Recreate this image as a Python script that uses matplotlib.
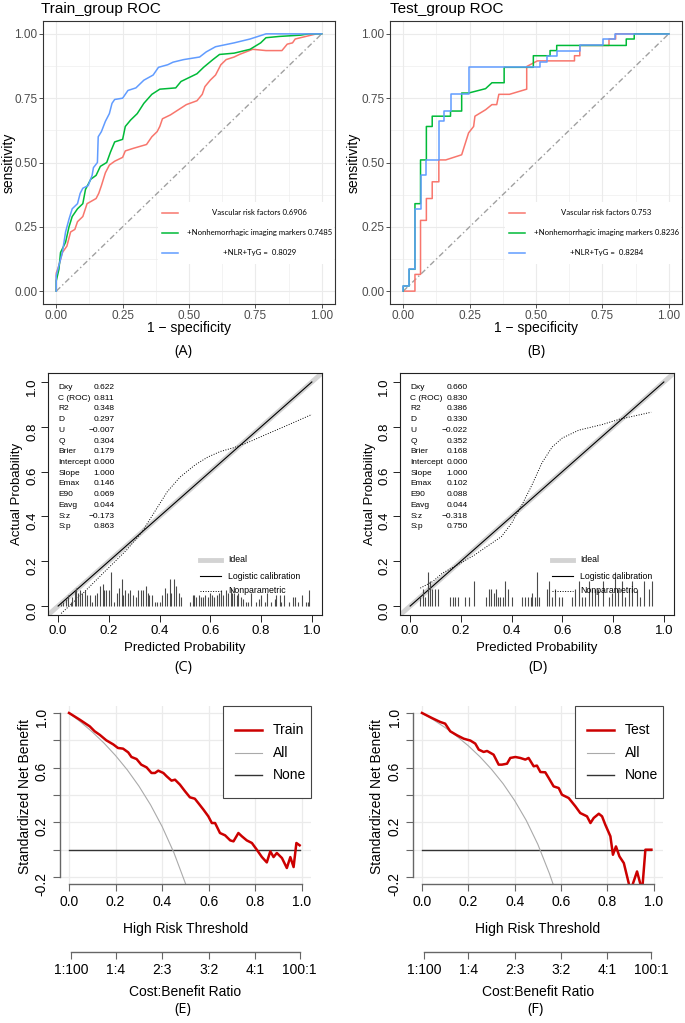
import matplotlib
matplotlib.use("Agg")
import matplotlib.pyplot as plt
from matplotlib.patches import Rectangle

W, H = 685, 1023
plt.rcParams["font.family"] = ["Liberation Sans", "DejaVu Sans"]

# ---------------- ROC curves (1 - specificity, sensitivity) ----------------
train_vrf_fpr = [0, 0, 0.01, 0.023, 0.04, 0.054, 0.07, 0.08, 0.10, 0.116, 0.15, 0.16, 0.17, 0.185, 0.20,
                 0.22, 0.25, 0.26, 0.29, 0.34, 0.36, 0.38, 0.39, 0.40, 0.43, 0.46, 0.49, 0.53, 0.55, 0.56,
                 0.58, 0.60, 0.61, 0.62, 0.64, 0.67, 0.69, 0.74, 0.79, 0.85, 0.87, 0.89, 0.90, 0.94, 0.98, 1.0]
train_vrf_tpr = [0, 0.07, 0.10, 0.15, 0.175, 0.23, 0.24, 0.27, 0.29, 0.34, 0.36, 0.38, 0.41, 0.46, 0.49,
                 0.505, 0.52, 0.545, 0.555, 0.57, 0.60, 0.62, 0.64, 0.67, 0.685, 0.705, 0.725, 0.74, 0.765, 0.795,
                 0.82, 0.84, 0.86, 0.88, 0.90, 0.91, 0.92, 0.94, 0.935, 0.935, 0.96, 0.965, 0.98, 0.99, 1.0, 1.0]
train_img_fpr = [0, 0, 0.01, 0.016, 0.035, 0.048, 0.06, 0.08, 0.10, 0.11, 0.13, 0.15, 0.166, 0.19, 0.204,
                 0.22, 0.25, 0.26, 0.28, 0.305, 0.33, 0.36, 0.39, 0.45, 0.47, 0.50, 0.53, 0.555, 0.59, 0.615,
                 0.67, 0.73, 0.77, 0.79, 0.84, 0.92, 0.95, 1.0]
train_img_tpr = [0, 0.04, 0.085, 0.15, 0.19, 0.25, 0.29, 0.32, 0.34, 0.395, 0.435, 0.45, 0.485, 0.50, 0.54,
                 0.58, 0.59, 0.64, 0.665, 0.69, 0.73, 0.765, 0.785, 0.79, 0.815, 0.83, 0.845, 0.87, 0.90, 0.92,
                 0.925, 0.94, 0.965, 0.985, 0.99, 0.995, 1.0, 1.0]
train_full_fpr = [0, 0, 0.01, 0.023, 0.035, 0.048, 0.06, 0.08, 0.09, 0.10, 0.12, 0.135, 0.14, 0.155, 0.158,
                  0.17, 0.185, 0.20, 0.21, 0.22, 0.25, 0.27, 0.30, 0.33, 0.365, 0.385, 0.42, 0.44, 0.48, 0.54,
                  0.565, 0.60, 0.67, 0.73, 0.79, 1.0]
train_full_tpr = [0, 0.06, 0.10, 0.15, 0.23, 0.28, 0.32, 0.34, 0.38, 0.40, 0.41, 0.45, 0.48, 0.50, 0.60,
                  0.62, 0.66, 0.69, 0.73, 0.745, 0.75, 0.78, 0.79, 0.82, 0.84, 0.87, 0.88, 0.89, 0.90, 0.91,
                  0.93, 0.95, 0.965, 0.98, 1.0, 1.0]

test_vrf_fpr = [0, 0.044, 0.044, 0.065, 0.065, 0.087, 0.087, 0.109, 0.109, 0.134, 0.134, 0.16, 0.22, 0.246, 0.265,
                0.27, 0.31, 0.334, 0.352, 0.36, 0.40, 0.465, 0.465, 0.505, 0.645, 0.645, 0.665, 0.665, 0.775, 0.775,
                0.80, 0.80, 1.0]
test_vrf_tpr = [0, 0, 0.065, 0.065, 0.275, 0.275, 0.36, 0.36, 0.425, 0.425, 0.51, 0.51, 0.53, 0.615, 0.64,
                0.68, 0.705, 0.725, 0.725, 0.765, 0.765, 0.785, 0.873, 0.895, 0.895, 0.915, 0.915, 0.955, 0.955, 0.98,
                0.98, 1.0, 1.0]
test_img_fpr = [0, 0, 0.022, 0.022, 0.044, 0.044, 0.065, 0.065, 0.087, 0.087, 0.109, 0.109, 0.178, 0.178, 0.22,
                0.22, 0.246, 0.31, 0.334, 0.38, 0.38, 0.49, 0.49, 0.553, 0.553, 0.578, 0.578, 0.84, 0.84, 0.87,
                0.87, 1.0]
test_img_tpr = [0, 0.02, 0.02, 0.085, 0.085, 0.34, 0.34, 0.51, 0.51, 0.64, 0.64, 0.68, 0.68, 0.70, 0.70,
                0.77, 0.77, 0.787, 0.81, 0.81, 0.87, 0.87, 0.915, 0.915, 0.935, 0.935, 0.955, 0.955, 0.98, 0.98,
                1.0, 1.0]
test_full_fpr = [0, 0, 0.022, 0.022, 0.044, 0.044, 0.065, 0.065, 0.087, 0.087, 0.134, 0.134, 0.152, 0.152, 0.178,
                 0.178, 0.246, 0.246, 0.515, 0.515, 0.54, 0.54, 0.578, 0.578, 0.665, 0.665, 0.752, 0.752, 0.796, 0.796,
                 1.0]
test_full_tpr = [0, 0.02, 0.02, 0.085, 0.085, 0.32, 0.32, 0.45, 0.45, 0.51, 0.51, 0.66, 0.66, 0.70, 0.70,
                 0.765, 0.765, 0.87, 0.87, 0.89, 0.89, 0.915, 0.915, 0.935, 0.935, 0.955, 0.955, 0.98, 0.98, 1.0,
                 1.0]

train_labels = ["Vascular risk factors 0.6906", "+Nonhemorrhagic imaging markers 0.7485", "+NLR+TyG =  0.8029"]
test_labels = ["Vascular risk factors 0.753", "+Nonhemorrhagic imaging markers 0.8236", "+NLR+TyG =  0.8284"]

# ---------------- calibration ----------------
stat_names = ["Dxy", "C (ROC)", "R2", "D", "U", "Q", "Brier", "Intercept", "Slope", "Emax", "E90", "Eavg", "S:z", "S:p"]
train_stats = [0.622, 0.811, 0.348, 0.297, -0.007, 0.304, 0.179, 0.000, 1.000, 0.146, 0.069, 0.044, -0.173, 0.863]
test_stats = [0.660, 0.830, 0.386, 0.330, -0.022, 0.352, 0.168, 0.000, 1.000, 0.102, 0.088, 0.044, -0.318, 0.750]

train_np_x = [0.012, 0.098, 0.19, 0.27, 0.33, 0.38, 0.43, 0.48, 0.54, 0.59, 0.64, 0.69, 0.74, 0.82, 0.9, 1.0]
train_np_y = [-0.033, 0.057, 0.161, 0.25, 0.33, 0.42, 0.51, 0.575, 0.63, 0.665, 0.69, 0.706, 0.726, 0.766, 0.805, 0.855]
test_np_x = [0.04, 0.09, 0.126, 0.165, 0.25, 0.36, 0.40, 0.44, 0.48, 0.52, 0.56, 0.6, 0.665, 0.757, 0.823, 0.95]
test_np_y = [0.08, 0.11, 0.146, 0.17, 0.225, 0.31, 0.37, 0.45, 0.54, 0.64, 0.71, 0.75, 0.785, 0.81, 0.833, 0.865]

train_spike_x = [0.01, 0.02, 0.03, 0.04, 0.05, 0.055, 0.065, 0.07, 0.08, 0.085, 0.095, 0.105, 0.115, 0.125, 0.135,
                 0.145, 0.155, 0.165, 0.175, 0.18, 0.19, 0.2, 0.21, 0.22, 0.23, 0.24, 0.25, 0.255, 0.265, 0.275,
                 0.285, 0.295, 0.305, 0.315, 0.325, 0.335, 0.345, 0.355, 0.36, 0.37, 0.38, 0.39, 0.40, 0.41, 0.42,
                 0.43, 0.44, 0.445, 0.455, 0.465, 0.475, 0.485, 0.52, 0.53, 0.535, 0.545, 0.555, 0.565, 0.57, 0.58,
                 0.59, 0.6, 0.605, 0.615, 0.625, 0.635, 0.64, 0.65, 0.66, 0.67, 0.68, 0.685, 0.695, 0.705, 0.71,
                 0.72, 0.73, 0.74, 0.75, 0.76, 0.78, 0.79, 0.8, 0.815, 0.825, 0.84, 0.855, 0.86, 0.875, 0.88,
                 0.89, 0.91, 0.925, 0.935, 0.945, 0.96, 0.975, 0.985, 0.99]
train_spike_h = [0.01, 0.02, 0.03, 0.05, 0.02, 0.04, 0.07, 0.08, 0.06, 0.07, 0.06, 0.07, 0.05, 0.05, 0.02,
                 0.05, 0.06, 0.09, 0.10, 0.07, 0.07, 0.07, 0.15, 0.02, 0.06, 0.08, 0.12, 0.05, 0.07, 0.06,
                 0.07, 0.05, 0.04, 0.07, 0.07, 0.07, 0.09, 0.06, 0.05, 0.05, 0.02, 0.02, 0.02, 0.05, 0.08,
                 0.06, 0.12, 0.06, 0.12, 0.09, 0.06, 0.04, 0.02, 0.05, 0.05, 0.04, 0.05, 0.04, 0.04, 0.05,
                 0.04, 0.06, 0.05, 0.04, 0.05, 0.06, 0.07, 0.05, 0.07, 0.06, 0.08, 0.06, 0.06, 0.05, 0.06,
                 0.04, 0.03, 0.02, 0.02, 0.06, 0.02, 0.03, 0.05, 0.02, 0.06, 0.02, 0.03, 0.05, 0.05, 0.02,
                 0.05, 0.02, 0.04, 0.04, 0.02, 0.05, 0.02, 0.02, 0.07]
test_spike_x = [0.039, 0.05, 0.059, 0.07, 0.079, 0.088, 0.099, 0.109, 0.158, 0.168, 0.177, 0.188, 0.217, 0.233, 0.25,
                0.30, 0.309, 0.318, 0.329, 0.338, 0.346, 0.355, 0.365, 0.372, 0.384, 0.40, 0.44, 0.451, 0.466, 0.476,
                0.482, 0.493, 0.50, 0.509, 0.539, 0.548, 0.558, 0.572, 0.587, 0.598, 0.637, 0.65, 0.666, 0.677, 0.69,
                0.703, 0.716, 0.729, 0.742, 0.762, 0.782, 0.795, 0.808, 0.821, 0.834, 0.845, 0.861, 0.874, 0.894, 0.907,
                0.92, 0.94, 0.953]
test_spike_h = [0.04, 0.075, 0.04, 0.15, 0.11, 0.075, 0.075, 0.075, 0.04, 0.04, 0.04, 0.04, 0.04, 0.04, 0.11,
                0.04, 0.075, 0.075, 0.06, 0.075, 0.04, 0.04, 0.04, 0.11, 0.075, 0.04, 0.04, 0.04, 0.04, 0.04,
                0.06, 0.04, 0.15, 0.04, 0.075, 0.11, 0.04, 0.075, 0.04, 0.04, 0.04, 0.075, 0.11, 0.04, 0.04,
                0.11, 0.075, 0.075, 0.075, 0.11, 0.04, 0.06, 0.15, 0.075, 0.11, 0.04, 0.075, 0.11, 0.075, 0.04,
                0.11, 0.075, 0.11]

# ---------------- decision curves ----------------
train_thr = [0, 0.046, 0.089, 0.11, 0.132, 0.16, 0.19, 0.21, 0.232, 0.254, 0.268, 0.29, 0.31, 0.333, 0.354,
             0.369, 0.383, 0.405, 0.419, 0.44, 0.455, 0.476, 0.498, 0.519, 0.54, 0.555, 0.577, 0.598, 0.613, 0.627,
             0.648, 0.67, 0.692, 0.706, 0.727, 0.742, 0.763, 0.785, 0.806, 0.828, 0.849, 0.864, 0.878, 0.892, 0.914,
             0.935, 0.95, 0.964, 0.976, 0.99]
train_snb = [1.0, 0.951, 0.902, 0.866, 0.84, 0.80, 0.77, 0.744, 0.739, 0.712, 0.678, 0.663, 0.622, 0.602, 0.561,
             0.561, 0.578, 0.561, 0.537, 0.505, 0.512, 0.476, 0.427, 0.383, 0.373, 0.341, 0.293, 0.244, 0.195, 0.195,
             0.122, 0.105, 0.068, 0.061, 0.122, 0.098, 0.068, 0.049, 0.0, -0.054, -0.093, -0.012, -0.054, -0.024, -0.061,
             -0.134, -0.054, -0.127, 0.049, 0.032]
test_thr = [0, 0.043, 0.079, 0.1, 0.122, 0.151, 0.18, 0.209, 0.23, 0.245, 0.266, 0.281, 0.309, 0.331, 0.345,
            0.367, 0.381, 0.403, 0.424, 0.446, 0.46, 0.482, 0.496, 0.511, 0.532, 0.547, 0.568, 0.59, 0.604, 0.633,
            0.662, 0.683, 0.712, 0.727, 0.741, 0.763, 0.777, 0.791, 0.813, 0.824, 0.837, 0.852, 0.871, 0.9, 0.928,
            0.95, 0.964, 0.99]
test_snb = [1.0, 0.963, 0.934, 0.922, 0.866, 0.837, 0.812, 0.798, 0.776, 0.732, 0.715, 0.722, 0.695, 0.622, 0.622,
            0.629, 0.671, 0.678, 0.671, 0.659, 0.671, 0.61, 0.615, 0.568, 0.566, 0.524, 0.463, 0.451, 0.402, 0.378,
            0.317, 0.268, 0.244, 0.195, 0.232, 0.263, 0.244, 0.183, 0.098, -0.037, 0.024, -0.049, -0.098, -0.30, -0.159,
            -0.30, 0.0, 0.0]
train_all_thr = [0, 0.05, 0.1, 0.15, 0.2, 0.25, 0.3, 0.35, 0.4, 0.45, 0.5]
train_all_snb = [1.0, 0.934, 0.861, 0.78, 0.688, 0.584, 0.465, 0.328, 0.168, -0.021, -0.248]
test_all_thr = [0, 0.05, 0.1, 0.15, 0.2, 0.25, 0.3, 0.35, 0.4, 0.45, 0.5, 0.55, 0.565]
test_all_snb = [1.0, 0.949, 0.893, 0.83, 0.76, 0.68, 0.588, 0.483, 0.359, 0.214, 0.039, -0.175, -0.248]
none_snb = 0.0

cb_cost = [1, 1, 2, 3, 4, 100]
cb_benefit = [100, 4, 3, 2, 1, 1]

ROC_COLORS = ["#F8766D", "#00BA38", "#619CFF"]
GRID = "#EBEBEB"
LEGEND_FONT = ["Lato", "DejaVu Sans"]
PANEL_FONT = ["Open Sans", "DejaVu Sans"]


def px_axes(fig, left, top, right, bottom):
    return fig.add_axes([left / W, 1 - bottom / H, (right - left) / W, (bottom - top) / H])


def px_text(fig, x, y, s, **kw):
    kw.setdefault("ha", "center")
    kw.setdefault("va", "center")
    fig.text(x / W, 1 - y / H, s, **kw)


def draw_roc(ax, curves, labels):
    ax.set_xlim(-0.05, 1.05)
    ax.set_ylim(-0.05, 1.05)
    ticks = [0, 0.25, 0.5, 0.75, 1.0]
    ax.set_xticks(ticks)
    ax.set_yticks(ticks)
    ax.set_xticklabels([f"{t:.2f}" for t in ticks])
    ax.set_yticklabels([f"{t:.2f}" for t in ticks])
    minor = [0.125, 0.375, 0.625, 0.875]
    ax.set_xticks(minor, minor=True)
    ax.set_yticks(minor, minor=True)
    ax.tick_params(which="minor", length=0)
    ax.tick_params(which="major", length=2.7, width=0.6, color="#333333",
                   labelsize=8.5, labelcolor="#4D4D4D", pad=1.5)
    ax.grid(which="major", color=GRID, lw=0.8)
    ax.grid(which="minor", color=GRID, lw=0.4)
    ax.set_axisbelow(True)
    for s in ax.spines.values():
        s.set_color("#333333")
        s.set_linewidth(0.8)
    ax.plot([0, 1], [0, 1], color="#A0A0A0", lw=1.0, dashes=(4, 2, 1, 2))
    for (fpr, tpr), c in zip(curves, ROC_COLORS):
        ax.plot(fpr, tpr, color=c, lw=1.1)
    # legend block sits inside the panel
    ax.add_patch(Rectangle((0.385, 0.105), 0.66, 0.24, facecolor="white", edgecolor="none", zorder=1.5))
    for i, (lab, c) in enumerate(zip(labels, ROC_COLORS)):
        yy = 0.305 - 0.078 * i
        ax.plot([0.398, 0.46], [yy, yy], color=c, lw=1.1, zorder=2)
        ax.text(0.765, yy, lab, ha="center", va="center", fontsize=5.6, family=LEGEND_FONT, zorder=3)


def draw_cal(ax, stats, np_x, np_y, sp_x, sp_h, val_x):
    ax.set_xlim(-0.04, 1.04)
    ax.set_ylim(-0.04, 1.04)
    ticks = [0, 0.2, 0.4, 0.6, 0.8, 1.0]
    ax.set_xticks(ticks)
    ax.set_yticks(ticks)
    ax.set_xticklabels([f"{t:.1f}" for t in ticks])
    ax.set_yticklabels([f"{t:.1f}" for t in ticks])
    ax.tick_params(length=5, width=0.7, color="#222222", labelsize=9.5, pad=2)
    ax.tick_params(axis="y", labelrotation=90)
    for s in ax.spines.values():
        s.set_color("#222222")
        s.set_linewidth(0.8)
    ax.axline((0, 0), slope=1, color="#D3D3D3", lw=3.5)
    ax.plot([0, 1], [0, 1], color="black", lw=0.8)
    ax.plot(np_x, np_y, color="black", lw=0.7, ls=(0, (1, 1.6)))
    ax.vlines(sp_x, 0, sp_h, color="#4A4A4A", lw=0.8)
    for i, (name, val) in enumerate(zip(stat_names, stats)):
        yy = 0.976 - 0.0479 * i
        ax.text(0.0, yy, name, fontsize=6, ha="left", va="center")
        ax.text(val_x, yy, f"{val:.3f}".replace("-", "\u2212"), fontsize=6, ha="right", va="center")
    keys = [("Ideal", dict(color="#D3D3D3", lw=3.5)),
            ("Logistic calibration", dict(color="black", lw=0.8)),
            ("Nonparametric", dict(color="black", lw=0.7, ls=(0, (1, 1.6))))]
    for (lab, st), yy in zip(keys, [0.206, 0.134, 0.069]):
        ax.plot([0.56, 0.64], [yy, yy], **st)
        ax.text(0.67, yy, lab, fontsize=6.3, ha="left", va="center")


def draw_dca(ax, thr, snb, all_thr, all_snb, name):
    ax.set_xlim(-0.04, 1.04)
    ax.set_ylim(-0.248, 1.048)
    xt = [0, 0.2, 0.4, 0.6, 0.8, 1.0]
    ax.set_xticks(xt)
    ax.set_xticklabels([f"{t:.1f}" for t in xt])
    yt = [-0.2, 0, 0.2, 0.4, 0.6, 0.8, 1.0]
    ax.set_yticks(yt)
    ax.set_yticklabels(["-0.2", "", "0.2", "", "0.6", "", "1.0"])
    ax.grid(color=GRID, lw=0.9)
    ax.set_axisbelow(True)
    ax.patch.set_visible(False)
    for side in ["top", "right"]:
        ax.spines[side].set_visible(False)
    ax.spines["left"].set_bounds(-0.2, 1.0)
    ax.spines["bottom"].set_bounds(0, 1.0)
    for side in ["left", "bottom"]:
        ax.spines[side].set_color("#666666")
        ax.spines[side].set_linewidth(1.0)
    ax.tick_params(length=5, width=0.8, color="#666666", labelsize=10, pad=3)
    ax.tick_params(axis="y", labelrotation=90)
    ax.plot([thr[0], thr[-1]], [none_snb, none_snb], color="#333333", lw=1.0)
    ax.plot(all_thr, all_snb, color="#AAAAAA", lw=0.8)
    ax.plot(thr, snb, color="#CC0000", lw=1.8)
    # legend box, top right of the plot region
    ax.add_patch(Rectangle((0.649, 0.483), 0.351, 0.517, transform=ax.transAxes,
                           facecolor="white", edgecolor="#444444", lw=0.8, zorder=3, clip_on=False))
    keys = [(name, dict(color="#CC0000", lw=1.8)),
            ("All", dict(color="#AAAAAA", lw=0.8)),
            ("None", dict(color="#333333", lw=1.0))]
    for (lab, st), yy in zip(keys, [0.867, 0.739, 0.611]):
        ax.plot([0.698, 0.805], [yy, yy], transform=ax.transAxes, zorder=4, **st)
        ax.text(0.848, yy, lab, transform=ax.transAxes, fontsize=10, ha="left", va="center", zorder=4)


def cost_axis(fig, left, right, y):
    ax2 = px_axes(fig, left, y - 0.5, right, y + 0.5)
    ax2.set_xlim(-0.04, 1.04)
    ax2.set_ylim(0, 1)
    for side in ["top", "right", "left"]:
        ax2.spines[side].set_visible(False)
    pos = [c / (c + b) for c, b in zip(cb_cost, cb_benefit)]
    ax2.spines["bottom"].set_bounds(pos[0], pos[-1])
    ax2.spines["bottom"].set_color("#666666")
    ax2.spines["bottom"].set_linewidth(1.0)
    ax2.set_xticks(pos)
    ax2.set_xticklabels([f"{c}:{b}" for c, b in zip(cb_cost, cb_benefit)])
    ax2.set_yticks([])
    ax2.tick_params(length=5, width=0.8, color="#666666", labelsize=10, pad=3)
    ax2.patch.set_visible(False)


fig = plt.figure(figsize=(W / 100, H / 100), dpi=100)

# ROC panels
ax_a = px_axes(fig, 43, 21, 335, 304)
draw_roc(ax_a, [(train_vrf_fpr, train_vrf_tpr), (train_img_fpr, train_img_tpr),
                (train_full_fpr, train_full_tpr)], train_labels)
ax_b = px_axes(fig, 390, 21, 682, 304)
draw_roc(ax_b, [(test_vrf_fpr, test_vrf_tpr), (test_img_fpr, test_img_tpr),
                (test_full_fpr, test_full_tpr)], test_labels)
px_text(fig, 41, 9, "Train_group ROC", ha="left", fontsize=11)
px_text(fig, 390, 9, "Test_group ROC", ha="left", fontsize=11)
for cx, yl in [(189, 9), (536.5, 354)]:
    px_text(fig, cx, 328, "1 \u2212 specificity", fontsize=10)
    px_text(fig, yl, 163, "sensitivity", fontsize=10, rotation=90)

# calibration panels
ax_c = px_axes(fig, 48, 373, 322, 615)
draw_cal(ax_c, train_stats, train_np_x, train_np_y, train_spike_x, train_spike_h, 0.223)
ax_d = px_axes(fig, 400, 373, 674, 615)
draw_cal(ax_d, test_stats, test_np_x, test_np_y, test_spike_x, test_spike_h, 0.228)
for cx, yl in [(185, 17), (537, 370)]:
    px_text(fig, cx, 648, "Predicted Probability", fontsize=9.5)
    px_text(fig, yl, 494, "Actual Probability", fontsize=9.5, rotation=90)

# decision curve panels
ax_e = px_axes(fig, 59.7, 706.4, 311.3, 883.6)
draw_dca(ax_e, train_thr, train_snb, train_all_thr, train_all_snb, "Train")
cost_axis(fig, 59.7, 311.3, 951.7)
ax_f = px_axes(fig, 412.7, 706.4, 663, 883.6)
draw_dca(ax_f, test_thr, test_snb, test_all_thr, test_all_snb, "Test")
cost_axis(fig, 412.7, 663, 951.7)
for cx, yl in [(185.5, 25), (538, 377)]:
    px_text(fig, cx, 929, "High Risk Threshold", fontsize=10)
    px_text(fig, cx, 992, "Cost:Benefit Ratio", fontsize=10)
    px_text(fig, yl, 797, "Standardized Net Benefit", fontsize=10, rotation=90)

# panel letters
for x, y, s in [(183, 352, "(A)"), (536, 352, "(B)"), (183, 668, "(C)"),
                (538, 668, "(D)"), (183, 1009, "(E)"), (536, 1009, "(F)")]:
    px_text(fig, x, y, s, fontsize=10.5, family=PANEL_FONT)

fig.savefig("out.png", dpi=100)
